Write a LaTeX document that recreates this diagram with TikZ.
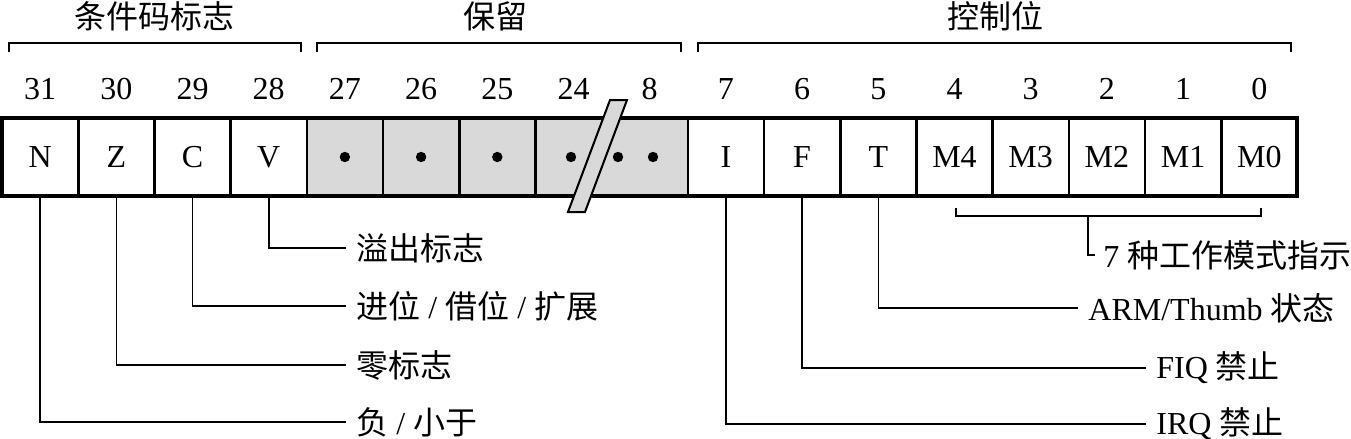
\documentclass[tikz,border=0pt]{standalone}
\usepackage{fontspec}
\setmainfont{Liberation Serif}
\newfontfamily\cjk{Noto Sans CJK SC}
\usetikzlibrary{positioning}

\begin{document}
\begin{tikzpicture}[
    x=0.5pt, y=-0.5pt,
    bit/.style={draw, line width=1.3pt, minimum width=38.1pt, minimum height=39pt, inner sep=0pt, outer sep=0pt, font=\fontsize{16}{16}\selectfont},
    rsv/.style={bit, fill=black!15},
    num/.style={inner sep=0pt, font=\fontsize{16}{16}\selectfont},
    head/.style={inner sep=0pt, font=\cjk\fontsize{16}{16}\selectfont},
    lbl/.style={anchor=west, inner xsep=5pt, inner ysep=0pt, font=\fontsize{16}{16}\selectfont},
    brk/.style={line width=0.9pt},
    lead/.style={line width=0.8pt},
    dot/.style={fill=black}
  ]
    \useasboundingbox (0,0) rectangle (1351,439);
    % register cells
    \node[bit] (n) at (40.1,157) {N};
    \node[bit, right=0pt of n] (z) {Z};
    \node[bit, right=0pt of z] (c) {C};
    \node[bit, right=0pt of c] (v) {V};
    \node[rsv, right=0pt of v] (r27) {};
    \node[rsv, right=0pt of r27] (r26) {};
    \node[rsv, right=0pt of r26] (r25) {};
    \node[rsv, right=0pt of r25, minimum width=76.2pt] (r24) {};
    \node[bit, right=0pt of r24] (i) {I};
    \node[bit, right=0pt of i] (f) {F};
    \node[bit, right=0pt of f] (t) {T};
    \node[bit, right=0pt of t] (m4) {M4};
    \node[bit, right=0pt of m4] (m3) {M3};
    \node[bit, right=0pt of m3] (m2) {M2};
    \node[bit, right=0pt of m2] (m1) {M1};
    \node[bit, right=0pt of m1] (m0) {M0};
    \draw[line width=2pt] (n.north west) rectangle (m0.south east);
    \fill[dot] (r27) circle (2.6pt);
    \fill[dot] (r26) circle (2.6pt);
    \fill[dot] (r25) circle (2.6pt);
    \fill[dot] ([xshift=-20.3pt]r24.center) circle (2.6pt);
    \fill[dot] ([xshift=3.2pt]r24.center) circle (2.6pt);
    \fill[dot] ([xshift=20.7pt]r24.center) circle (2.6pt);
    \filldraw[fill=black!15, line width=1pt] (610,100) -- (627,100) -- (585,212) -- (568,212) -- cycle;
    % bit numbers
    \node[num, above=9pt of n] (k31) {31};
    \node[num, above=9pt of z] (k30) {30};
    \node[num, above=9pt of c] (k29) {29};
    \node[num, above=9pt of v] (k28) {28};
    \node[num, above=9pt of r27] (k27) {27};
    \node[num, above=9pt of r26] (k26) {26};
    \node[num, above=9pt of r25] (k25) {25};
    \node[num, above=9pt of r24, xshift=-19.05pt] (k24) {24};
    \node[num, above=9pt of r24, xshift=19.05pt] (k8) {8};
    \node[num, above=9pt of i] (k7) {7};
    \node[num, above=9pt of f] (k6) {6};
    \node[num, above=9pt of t] (k5) {5};
    \node[num, above=9pt of m4] (k4) {4};
    \node[num, above=9pt of m3] (k3) {3};
    \node[num, above=9pt of m2] (k2) {2};
    \node[num, above=9pt of m1] (k1) {1};
    \node[num, above=9pt of m0] (k0) {0};
    % field groups
    \node[head] (hcc) at (155,16) {条件码标志};
    \draw[brk] (9,52) |- (301,43) -- (301,52);
    \node[head] (hrs) at (495,16) {保留};
    \draw[brk] (317,52) |- (681,43) -- (681,52);
    \node[head] (hct) at (995,16) {控制位};
    \draw[brk] (698,52) |- (1291,43) -- (1291,52);
    % flag meanings
    \node[lbl] (lv) at (346,248) {\cjk 溢出标志};
    \node[lbl] (lc) at (346,306) {{\cjk 进位} / {\cjk 借位} / {\cjk 扩展}};
    \node[lbl] (lz) at (346,365) {\cjk 零标志};
    \node[lbl] (ln) at (346,422) {{\cjk 负} / {\cjk 小于}};
    \draw[lead] (v.south) |- (lv.west);
    \draw[lead] (c.south) |- (lc.west);
    \draw[lead] (z.south) |- (lz.west);
    \draw[lead] (n.south) |- (ln.west);
    % control meanings
    \draw[brk] (956,208) |- (1261,216) -- (1261,208);
    \coordinate (mb) at (1088,216);
    \node[lbl, inner xsep=4pt] (lm) at (1095,255) {7 {\cjk 种工作模式指示}};
    \node[lbl] (lt) at (1078,308) {ARM/Thumb {\cjk 状态}};
    \node[lbl] (lf) at (1146,368) {FIQ {\cjk 禁止}};
    \node[lbl] (li) at (1146,424) {IRQ {\cjk 禁止}};
    \draw[lead] (mb) |- (lm.west);
    \draw[lead] (t.south) |- (lt.west);
    \draw[lead] (f.south) |- (lf.west);
    \draw[lead] (i.south) |- (li.west);
  \end{tikzpicture}
\end{document}
